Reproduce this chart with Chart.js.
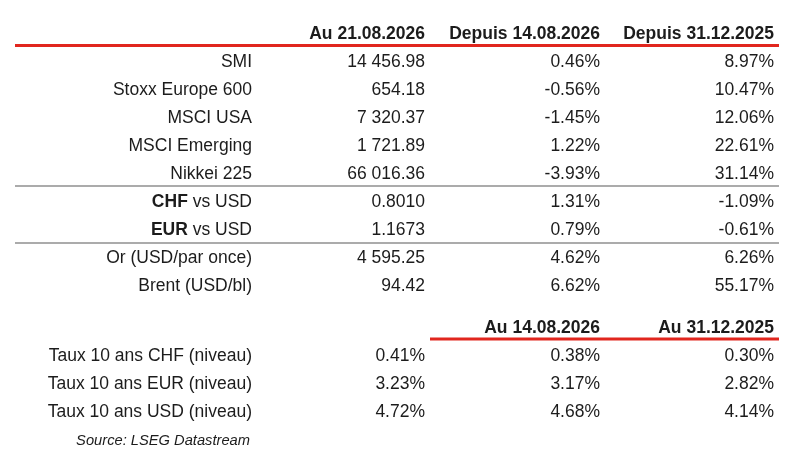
<!DOCTYPE html>
<html>
<head>
<meta charset="utf-8">
<script src="https://cdn.jsdelivr.net/npm/chart.js@4.4.1/dist/chart.umd.min.js"></script>
<style>
  html, body { margin: 0; padding: 0; background: #fff; }
  #wrap { width: 785px; height: 461px; }
</style>
</head>
<body>
<div id="wrap"><canvas id="tableChart" width="785" height="461"></canvas></div>
<script>
// Table data
const headersTop = ['Au 21.08.2026', 'Depuis 14.08.2026', 'Depuis 31.12.2025'];
const assetNames = ['SMI', 'Stoxx Europe 600', 'MSCI USA', 'MSCI Emerging', 'Nikkei 225',
                    'CHF vs USD', 'EUR vs USD', 'Or (USD/par once)', 'Brent (USD/bl)'];
const assetBold = ['', '', '', '', '', 'CHF', 'EUR', '', ''];
const assetLevel = [14456.98, 654.18, 7320.37, 1721.89, 66016.36, 0.8010, 1.1673, 4595.25, 94.42];
const levelDecimals = [2, 2, 2, 2, 2, 4, 4, 2, 2];
const changeWeek = [0.46, -0.56, -1.45, 1.22, -3.93, 1.31, 0.79, 4.62, 6.62];
const changeYtd = [8.97, 10.47, 12.06, 22.61, 31.14, -1.09, -0.61, 6.26, 55.17];

const headersRates = ['Au 14.08.2026', 'Au 31.12.2025'];
const rateNames = ['Taux 10 ans CHF (niveau)', 'Taux 10 ans EUR (niveau)', 'Taux 10 ans USD (niveau)'];
const rateNow = [0.41, 3.23, 4.72];
const rateWeek = [0.38, 3.17, 4.68];
const rateYtd = [0.30, 2.82, 4.14];
const sourceText = 'Source: LSEG Datastream';

// Layout (x in px units of the x scale, y in row units)
const colRight = [252, 425, 600, 774];
const ruleLeft = 15, ruleRight = 779, rateRuleLeft = 430;
const rateRowStart = 10.5;
const TEXT = '#1c1c1c';
const RED = 'rgb(225, 38, 30)';
const GREY = '#8f8f8f';
const FONT = '"Liberation Sans", Arial, sans-serif';
const SIZE = 17.5;

const fmtLevel = (v, d) => {
    const parts = v.toFixed(d).split('.');
    parts[0] = parts[0].replace(/\B(?=(\d{3})+(?!\d))/g, ' ');
    return parts.join('.');
};
const fmtPct = v => v.toFixed(2) + '%';

// Build cell datasets
const cells = (col, row0, texts, extra) => texts.map((t, i) => ({
    x: colRight[col], y: row0 + i, text: t, bold: extra ? extra[i] : ''
}));

const datasets = [
    { label: 'hdr1', cellWeight: 'bold', data: headersTop.map((t, i) => ({ x: colRight[i + 1], y: 0, text: t })) },
    { label: 'names', data: cells(0, 1, assetNames, assetBold) },
    { label: 'level', data: cells(1, 1, assetLevel.map((v, i) => fmtLevel(v, levelDecimals[i]))) },
    { label: 'week', data: cells(2, 1, changeWeek.map(fmtPct)) },
    { label: 'ytd', data: cells(3, 1, changeYtd.map(fmtPct)) },
    { label: 'hdr2', cellWeight: 'bold', data: headersRates.map((t, i) => ({ x: colRight[i + 2], y: rateRowStart, text: t })) },
    { label: 'rateNames', data: cells(0, rateRowStart + 1, rateNames) },
    { label: 'rateNow', data: cells(1, rateRowStart + 1, rateNow.map(fmtPct)) },
    { label: 'rateWeek', data: cells(2, rateRowStart + 1, rateWeek.map(fmtPct)) },
    { label: 'rateYtd', data: cells(3, rateRowStart + 1, rateYtd.map(fmtPct)) },
    { label: 'source', cellStyle: 'italic', cellSize: 14.7, data: [{ x: colRight[0] - 2, y: rateRowStart + 4.03, text: sourceText }] }
].map(d => Object.assign({ type: 'scatter', pointRadius: 0, isCell: true }, d));

// Rules
const rule = (y, x0, color, width) => ({
    type: 'line', data: [{ x: x0, y: y }, { x: ruleRight, y: y }],
    borderColor: color, borderWidth: width, pointRadius: 0, fill: false, clip: false
});
datasets.push(rule(0.45, ruleLeft, RED, 3));
datasets.push(rule(5.46, ruleLeft, GREY, 1.5));
datasets.push(rule(7.5, ruleLeft, GREY, 1.5));
datasets.push(rule(rateRowStart + 0.43, rateRuleLeft, RED, 3));

const cellText = {
    id: 'cellText',
    afterDatasetsDraw(chart) {
        const ctx = chart.ctx;
        ctx.save();
        ctx.fillStyle = TEXT;
        ctx.textAlign = 'right';
        ctx.textBaseline = 'alphabetic';
        chart.data.datasets.forEach((ds, di) => {
            if (!ds.isCell) return;
            const size = ds.cellSize || SIZE;
            const weight = ds.cellWeight || 'normal';
            const style = ds.cellStyle || 'normal';
            chart.getDatasetMeta(di).data.forEach((pt, j) => {
                const item = ds.data[j];
                const base = pt.y + size * 0.36;
                const text = item.text;
                if (item.bold) {
                    const rest = text.slice(item.bold.length);
                    ctx.font = `${style} normal ${size}px ${FONT}`;
                    ctx.fillText(rest, pt.x, base);
                    const w = ctx.measureText(rest).width;
                    ctx.font = `${style} bold ${size}px ${FONT}`;
                    ctx.fillText(item.bold, pt.x - w, base);
                } else {
                    ctx.font = `${style} ${weight} ${size}px ${FONT}`;
                    ctx.fillText(text, pt.x, base);
                }
            });
        });
        ctx.restore();
    }
};

new Chart(document.getElementById('tableChart'), {
    type: 'scatter',
    data: { datasets: datasets },
    options: {
        responsive: false,
        animation: false,
        layout: { padding: 0 },
        plugins: { legend: { display: false }, tooltip: { enabled: false } },
        scales: {
            x: { type: 'linear', min: 0, max: 785, display: false },
            y: { type: 'linear', reverse: true, min: -33 / 28, max: (461 - 33) / 28, display: false }
        }
    },
    plugins: [cellText]
});
</script>
</body>
</html>
